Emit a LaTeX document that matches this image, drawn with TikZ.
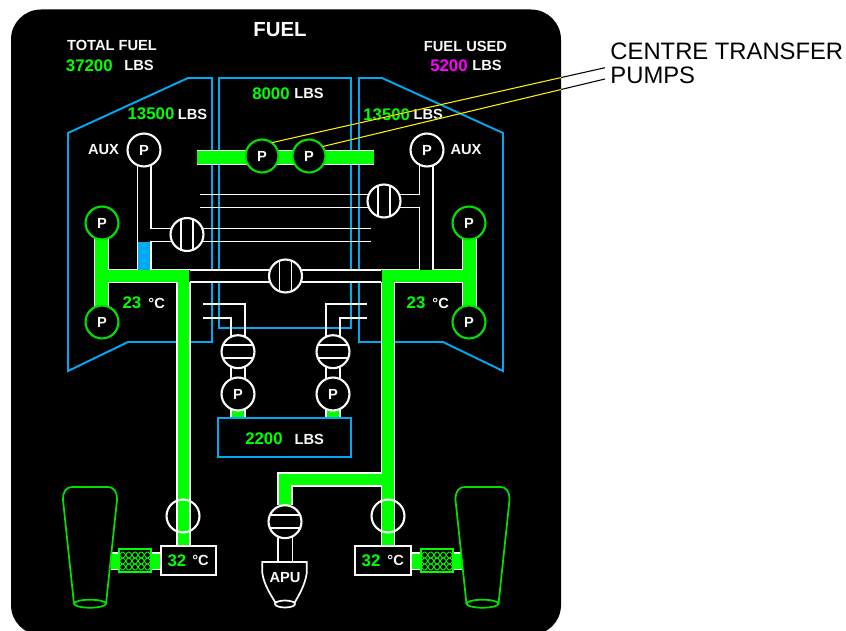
\documentclass[tikz,border=0pt]{standalone}
\usepackage{fontspec}
\setmainfont{Liberation Sans}
\definecolor{pipegreen}{RGB}{0,255,0}
\definecolor{ringgreen}{RGB}{0,225,0}
\definecolor{tankblue}{RGB}{0,170,240}
\definecolor{textwhite}{RGB}{250,250,250}
\definecolor{usedmagenta}{RGB}{255,0,255}
\newcommand{\pxfont}[1]{\fontsize{#1}{#1}\selectfont\bfseries}
\newcommand{\meshlines}{%
  \foreach \r in {555,561,567}{
    \draw[meshline] plot[smooth,domain=0:31,samples=49] (119.5+\x,{\r+3*sin(29*\x)});
    \draw[meshline] plot[smooth,domain=0:31,samples=49] (119.5+\x,{\r-3*sin(29*\x)});
  }}
\newcommand{\engineshape}{%
  \draw[engline] (63,500) .. controls (63,491) and (66,487) .. (73,487) -- (107,487)
    .. controls (114,487) and (117,491) .. (117,500) -- (106,604) (74,604) -- (63,500);
  \draw[engline] (90,603.7) ellipse [x radius=16,y radius=4];
}
\newcommand{\tankpipes}{%
  \draw[wline] (94.5,223) -- (94.5,322) (108.5,223) -- (108.5,322)
    (108,269.5) -- (137.5,269.5) (151,269.5) -- (190,269.5)
    (108,282.5) -- (177,282.5);
  \fill[pipegreen] (95.2,223) rectangle (107.8,322);
  \fill[pipegreen] (95.2,270.2) rectangle (189.4,282);
}
\tikzset{
  wline/.style={draw=textwhite,line width=1.45pt},
  tank/.style={draw=tankblue,line width=1.45pt,line join=miter},
  pumpw/.style={circle,draw=textwhite,fill=black,line width=1.6pt,minimum size=24.7pt,inner sep=0pt,outer sep=0pt,text=textwhite,font=\pxfont{11}},
  pumpg/.style={pumpw,draw=ringgreen},
  ringvalve/.style={circle,draw=textwhite,line width=1.6pt,minimum size=24.7pt,inner sep=0pt,outer sep=0pt},
  valvev/.style={ringvalve,fill=black,path picture={
    \draw[wline] ([xshift=-4.5pt]path picture bounding box.north) -- ([xshift=-4.5pt]path picture bounding box.south);
    \draw[wline] ([xshift=4.5pt]path picture bounding box.north) -- ([xshift=4.5pt]path picture bounding box.south);}},
  valveh/.style={ringvalve,fill=black,path picture={
    \draw[wline] ([yshift=-4.9pt]path picture bounding box.west) -- ([yshift=-4.9pt]path picture bounding box.east);
    \draw[wline] ([yshift=4.9pt]path picture bounding box.west) -- ([yshift=4.9pt]path picture bounding box.east);}},
  num/.style={text=pipegreen,font=\pxfont{12.6},inner sep=0pt},
  lab/.style={text=textwhite,font=\pxfont{11},inner sep=0pt},
  tempbox/.style={draw=textwhite,fill=black,line width=1.45pt,minimum width=41.5pt,minimum height=22pt,inner sep=0pt,outer sep=0pt},
  meshbox/.style={draw=pipegreen,fill=black,line width=1.6pt,minimum width=23.5pt,minimum height=17pt,inner sep=0pt,outer sep=0pt},
  meshline/.style={draw=pipegreen,line width=0.7pt},
  engline/.style={draw=ringgreen,line width=1.3pt},
  leader/.style={line width=0.8pt},
}
\begin{document}
\begin{tikzpicture}[x=0.75pt,y=-0.75pt]
\useasboundingbox (0,0) rectangle (846,631);
\clip (0,0) rectangle (846,631);
\fill[white] (0,0) rectangle (846,631);
\fill[black,rounded corners=22.5pt] (11,9.5) rectangle (561,635);

% tanks
\draw[tank] (68,133) -- (188,78) -- (212,78) -- (212,342) -- (128,342) -- (68,371) -- cycle;
\draw[tank] (503,133) -- (382,78) -- (359,78) -- (359,342) -- (443,342) -- (503,371) -- cycle;
\draw[tank] (219,78) rectangle (351,328);

% transfer bar
\draw[wline] (197,150.5) -- (374,150.5) (197,164.5) -- (374,164.5);
\fill[pipegreen] (197,151) rectangle (374,164);

% aux pipes and crossfeed lines
\draw[wline] (137.5,150) -- (137.5,270) (151,150) -- (151,228.5) -- (371,228.5)
  (151,270) -- (151,241.5) -- (371,241.5);
\draw[wline] (433,150) -- (433,270) (419.5,150) -- (419.5,194.5) -- (200,194.5)
  (419.5,270) -- (419.5,207.5) -- (200,207.5);
\fill[tankblue] (138.2,242.3) rectangle (150.3,269.5);

% centre crossfeed
\fill[black] (190,270.5) rectangle (381,281.5);
\draw[wline] (190,269.8) -- (381,269.8) (190,282.2) -- (381,282.2);

% wing tank manifolds
\tankpipes
\begin{scope}[shift={(571,0)},xscale=-1]\tankpipes\end{scope}

% main feed lines
\draw[wline] (177,282) -- (177,546) (189.7,282) -- (189.7,546);
\draw[wline] (381.6,282) -- (381.6,546) (394.4,282) -- (394.4,546);
\draw[wline] (278,505) -- (278,473) -- (382,473) (291.6,505) -- (291.6,486) -- (382,486);
\fill[pipegreen] (177.8,270.2) rectangle (189,546);
\fill[pipegreen] (382.4,270.2) rectangle (393.6,546);
\fill[pipegreen] (278.8,473.8) rectangle (290.8,505);
\fill[pipegreen] (278.8,473.8) rectangle (393.6,485.2);

% APU tank feed pipes
\draw[wline] (203,304.3) -- (245,304.3) -- (245,418) (203,318) -- (231,318) -- (231,418);
\draw[wline] (367,304.3) -- (326,304.3) -- (326,418) (367,318) -- (340,318) -- (340,418);
\fill[pipegreen] (231.7,405) rectangle (244.3,418);
\fill[pipegreen] (326.7,405) rectangle (339.3,418);

% APU feed
\draw[wline] (278,521) -- (278,562) (292.5,521) -- (292.5,562);

% engine feeds
\draw[wline] (111,553.3) -- (161,553.3) (111,569.2) -- (161,569.2);
\draw[wline] (411,553.3) -- (462,553.3) (411,569.2) -- (462,569.2);
\fill[pipegreen] (111,554) rectangle (161,568.5);
\fill[pipegreen] (411,554) rectangle (462,568.5);

% pumps
\node[pumpw] (auxL) at (144,150) {P};
\node[pumpw] (auxR) at (427,150) {P};
\node[pumpg] (pLup) at (102,223) {P};
\node[pumpg] (pLdn) at (102,322) {P};
\node[pumpg] (pRup) at (469,223) {P};
\node[pumpg] (pRdn) at (469,322) {P};
\node[pumpg] (pC1) at (262,156) {P};
\node[pumpg] (pC2) at (309,156) {P};
\node[pumpw] (pB1) at (238,394) {P};
\node[pumpw] (pB2) at (333,394) {P};

% valves
\node[valvev] (vL) at (187,234.5) {};
\node[valvev] (vR) at (384,201) {};
\node[valvev] (vC) at (285.5,276) {};
\node[valveh] (vB1) at (238,351.7) {};
\node[valveh] (vB2) at (333,351.7) {};
\node[valveh] (vA) at (285,521.7) {};
\node[ringvalve] (vE1) at (183,516) {};
\node[ringvalve] (vE2) at (388,516) {};

% APU tank
\node[draw=tankblue,fill=black,line width=1.45pt,minimum width=99.5pt,minimum height=29pt,inner sep=0pt,outer sep=0pt] (apuTank) at (284.5,437.5) {};

% temperature boxes
\node[tempbox] (t1) at (188.5,560.3) {};
\node[tempbox] (t2) at (383,560.3) {};

% mesh
\node[meshbox] (m1) at (135,560.5) {};
\node[meshbox] (m2) at (437,560.5) {};
\meshlines
\begin{scope}[shift={(302,0)}]\meshlines\end{scope}

% engines
\engineshape
\begin{scope}[shift={(392.5,0)}]\engineshape\end{scope}

% APU
\draw[draw=textwhite,line width=1.3pt,fill=black] (262.3,562) -- (306.8,562) -- (306.8,573)
  .. controls (305,585) and (299,595) .. (295,602) -- (275,602)
  .. controls (271,595) and (264,585) .. (262.3,573) -- cycle;
\draw[draw=textwhite,line width=1.3pt,fill=black] (285,604) ellipse [x radius=10,y radius=3.5];

% texts
\node[text=textwhite,font=\pxfont{15.3},inner sep=0pt] (title) at (280,29.5) {FUEL};
\node[lab] (tf) at (112,45.7) {TOTAL FUEL};
\node[num] (tfn) at (89.3,65.5) {37200};
\node[lab] (tfl) at (139,65.8) {LBS};
\node[lab] (fu) at (465.5,46) {FUEL USED};
\node[num,text=usedmagenta] (fun) at (449,65.5) {5200};
\node[lab] (ful) at (487,65.8) {LBS};
\node[num] (cq) at (271,93.3) {8000};
\node[lab] (cl) at (309,93.7) {LBS};
\node[num] (lq) at (151,114) {13500};
\node[lab] (ll) at (192.5,114.3) {LBS};
\node[num] (rq) at (386.7,114.3) {13500};
\node[lab] (rl) at (428.3,114.5) {LBS};
\node[lab] (auxa) at (103.5,150) {AUX};
\node[lab] (auxb) at (466,150) {AUX};
\node[num] (tl) at (132,302.7) {23};
\node[lab] (tlc) at (156.7,303) {°C};
\node[num] (tr) at (416,302.7) {23};
\node[lab] (trc) at (440.7,303) {°C};
\node[num] (q2) at (264,438.3) {2200};
\node[lab] (q2l) at (309.3,439) {LBS};
\node[num] (e1) at (177,560.3) {32};
\node[lab] (e1c) at (200.5,560.6) {°C};
\node[num] (e2) at (371,560.3) {32};
\node[lab] (e2c) at (395.7,560.6) {°C};
\node[text=textwhite,font=\pxfont{11},inner sep=0pt] (apu) at (285,577.7) {APU};

% leaders
\coordinate (lead1) at (605,67.7);
\coordinate (lead2) at (605,79);
\draw[leader,black] (pC1.54) -- (lead1) (pC2.35) -- (lead2);
\begin{scope}
\clip[rounded corners=22.5pt] (11,9.5) rectangle (561,635);
\draw[leader,yellow] (pC1.54) -- (lead1) (pC2.35) -- (lead2);
\end{scope}
\node[anchor=west,align=left,text=black,inner sep=0pt,font=\fontsize{17.85}{18}\selectfont] (callout) at (610.2,63.3) {CENTRE TRANSFER\\PUMPS};
\end{tikzpicture}
\end{document}
